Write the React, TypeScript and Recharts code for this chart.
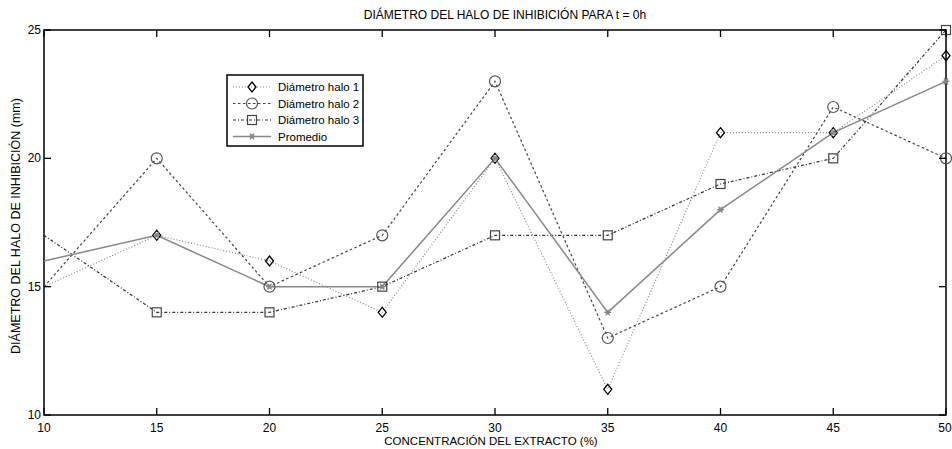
import React from "react";
import { LineChart, Line, XAxis, YAxis, ReferenceArea } from "recharts";

const concentrations = [10, 15, 20, 25, 30, 35, 40, 45, 50];
const halo1 = [15, 17, 16, 14, 20, 11, 21, 21, 24];
const halo2 = [15, 20, 15, 17, 23, 13, 15, 22, 20];
const halo3 = [17, 14, 14, 15, 17, 17, 19, 20, 25];
const promedio = [16, 17, 15, 15, 20, 14, 18, 21, 23];
const xTicks = [10, 15, 20, 25, 30, 35, 40, 45, 50];
const yTicks = [10, 15, 20, 25];

const data = concentrations.map((c, i) => ({
    c,
    h1: halo1[i],
    h2: halo2[i],
    h3: halo3[i],
    avg: promedio[i],
}));

const W = 952;
const H = 449;
const PLOT_LEFT = 44;
const PLOT_RIGHT = 946;
const PLOT_TOP = 30;
const PLOT_BOTTOM = 415;
const FONT = "'Liberation Sans', Arial, Helvetica, sans-serif";

const Diamond = ({ cx, cy }: { cx: number; cy: number }) => (
    <polygon
        points={`${cx},${cy - 5} ${cx + 4},${cy} ${cx},${cy + 5} ${cx - 4},${cy}`}
        fill="none"
        stroke="#000"
        strokeWidth={1.3}
    />
);
const Circle = ({ cx, cy }: { cx: number; cy: number }) => (
    <circle cx={cx} cy={cy} r={5.5} fill="none" stroke="#555" strokeWidth={1.2} />
);
const Square = ({ cx, cy }: { cx: number; cy: number }) => (
    <rect x={cx - 4.5} y={cy - 4.5} width={9} height={9} fill="none" stroke="#444" strokeWidth={1.2} />
);
const Star = ({ cx, cy }: { cx: number; cy: number }) => (
    <g stroke="#888" strokeWidth={1.3}>
        <line x1={cx - 3.5} y1={cy} x2={cx + 3.5} y2={cy} />
        <line x1={cx - 2} y1={cy - 3} x2={cx + 2} y2={cy + 3} />
        <line x1={cx + 2} y1={cy - 3} x2={cx - 2} y2={cy + 3} />
        <circle cx={cx} cy={cy} r={1.5} fill="#888" />
    </g>
);

function dotFor(Shape: React.ComponentType<{ cx: number; cy: number }>, name: string) {
    return (props: any) => {
        const { cx, cy, index } = props;
        if (index === 0 || cx == null || cy == null) return <g key={`${name}-${index}`} />;
        return (
            <g key={`${name}-${index}`}>
                <Shape cx={cx} cy={cy} />
            </g>
        );
    };
}

// inward ticks on both sides of the box, labels outside
const renderYTick = (props: any) => {
    const { y, payload } = props;
    return (
        <g key={`yt-${payload.value}`}>
            <line x1={PLOT_LEFT} y1={y} x2={PLOT_LEFT + 7} y2={y} stroke="#000" strokeWidth={1.3} />
            <line x1={PLOT_RIGHT - 7} y1={y} x2={PLOT_RIGHT} y2={y} stroke="#000" strokeWidth={1.3} />
            <text x={PLOT_LEFT - 3} y={y + 4} textAnchor="end" fontSize={12} fontFamily={FONT} fill="#000">
                {payload.value}
            </text>
        </g>
    );
};

const renderXTick = (props: any) => {
    const { x, payload } = props;
    return (
        <g key={`xt-${payload.value}`}>
            <line x1={x} y1={PLOT_BOTTOM} x2={x} y2={PLOT_BOTTOM - 7} stroke="#000" strokeWidth={1.3} />
            <line x1={x} y1={PLOT_TOP} x2={x} y2={PLOT_TOP + 7} stroke="#000" strokeWidth={1.3} />
            <text
                x={Math.min(x, W - 7)}
                y={PLOT_BOTTOM + 17}
                textAnchor="middle"
                fontSize={12}
                fontFamily={FONT}
                fill="#000"
            >
                {payload.value}
            </text>
        </g>
    );
};

const legendItems = [
    { label: "Diámetro halo 1", color: "#888", dash: "1 2", shape: Diamond },
    { label: "Diámetro halo 2", color: "#444", dash: "2.5 2.5", shape: Circle },
    { label: "Diámetro halo 3", color: "#333", dash: "3 2 1 2", shape: Square },
    { label: "Promedio", color: "#888", dash: undefined, shape: Star },
];

function LegendBox() {
    return (
        <svg width={138} height={73} style={{ position: "absolute", left: 226, top: 74 }}>
            <rect x={1} y={1} width={136} height={71} fill="#fff" stroke="#000" strokeWidth={1.5} />
            {legendItems.map((it, i) => {
                const y = 13 + i * 16.5;
                const S = it.shape;
                return (
                    <g key={it.label}>
                        <line
                            x1={7}
                            y1={y}
                            x2={45}
                            y2={y}
                            stroke={it.color}
                            strokeWidth={it.dash ? 1.2 : 1.5}
                            strokeDasharray={it.dash}
                        />
                        <S cx={26} cy={y} />
                        <text x={52} y={y + 4} fontSize={11.5} fontFamily={FONT} fill="#000">
                            {it.label}
                        </text>
                    </g>
                );
            })}
        </svg>
    );
}

export default function App() {
    return (
        <div style={{ position: "absolute", left: 0, top: 0, width: W, height: H, background: "#fff" }}>
            <LineChart
                width={W}
                height={H}
                data={data}
                margin={{ top: PLOT_TOP, right: W - PLOT_RIGHT, bottom: 0, left: 0 }}
            >
                <XAxis
                    dataKey="c"
                    type="number"
                    domain={[10, 50]}
                    ticks={xTicks}
                    height={H - PLOT_BOTTOM}
                    tickSize={0}
                    tickMargin={0}
                    axisLine={false}
                    tickLine={false}
                    tick={renderXTick}
                    interval={0}
                />
                <YAxis
                    type="number"
                    domain={[10, 25]}
                    ticks={yTicks}
                    width={PLOT_LEFT}
                    tickSize={0}
                    tickMargin={0}
                    axisLine={false}
                    tickLine={false}
                    tick={renderYTick}
                    interval={0}
                />
                <Line
                    dataKey="h1"
                    stroke="#888"
                    strokeWidth={1.2}
                    strokeDasharray="1 2"
                    dot={dotFor(Diamond, "h1")}
                    isAnimationActive={false}
                />
                <Line
                    dataKey="h2"
                    stroke="#444"
                    strokeWidth={1.2}
                    strokeDasharray="2.5 2.5"
                    dot={dotFor(Circle, "h2")}
                    isAnimationActive={false}
                />
                <Line
                    dataKey="h3"
                    stroke="#333"
                    strokeWidth={1.2}
                    strokeDasharray="3 2 1 2"
                    dot={dotFor(Square, "h3")}
                    isAnimationActive={false}
                />
                <Line
                    dataKey="avg"
                    stroke="#888"
                    strokeWidth={1.5}
                    dot={dotFor(Star, "avg")}
                    isAnimationActive={false}
                />
                <ReferenceArea x1={10} x2={50} y1={10} y2={25} fill="none" stroke="#000" strokeWidth={1.5} />
            </LineChart>
            <div
                style={{
                    position: "absolute",
                    left: 0,
                    width: 1010,
                    top: 8,
                    textAlign: "center",
                    fontSize: 12,
                    fontFamily: FONT,
                }}
            >
                DIÁMETRO DEL HALO DE INHIBICIÓN PARA t = 0h
            </div>
            <div
                style={{
                    position: "absolute",
                    left: 0,
                    width: 982,
                    top: 435,
                    textAlign: "center",
                    fontSize: 11.5,
                    fontFamily: FONT,
                }}
            >
                CONCENTRACIÓN DEL EXTRACTO (%)
            </div>
            <svg width={30} height={H} style={{ position: "absolute", left: 0, top: 0 }}>
                <text
                    x={0}
                    y={0}
                    transform="translate(20 226) rotate(-90)"
                    textAnchor="middle"
                    fontSize={12.5}
                    fontFamily={FONT}
                >
                    DIÁMETRO DEL HALO DE INHIBICIÓN  (mm)
                </text>
            </svg>
            <LegendBox />
        </div>
    );
}
